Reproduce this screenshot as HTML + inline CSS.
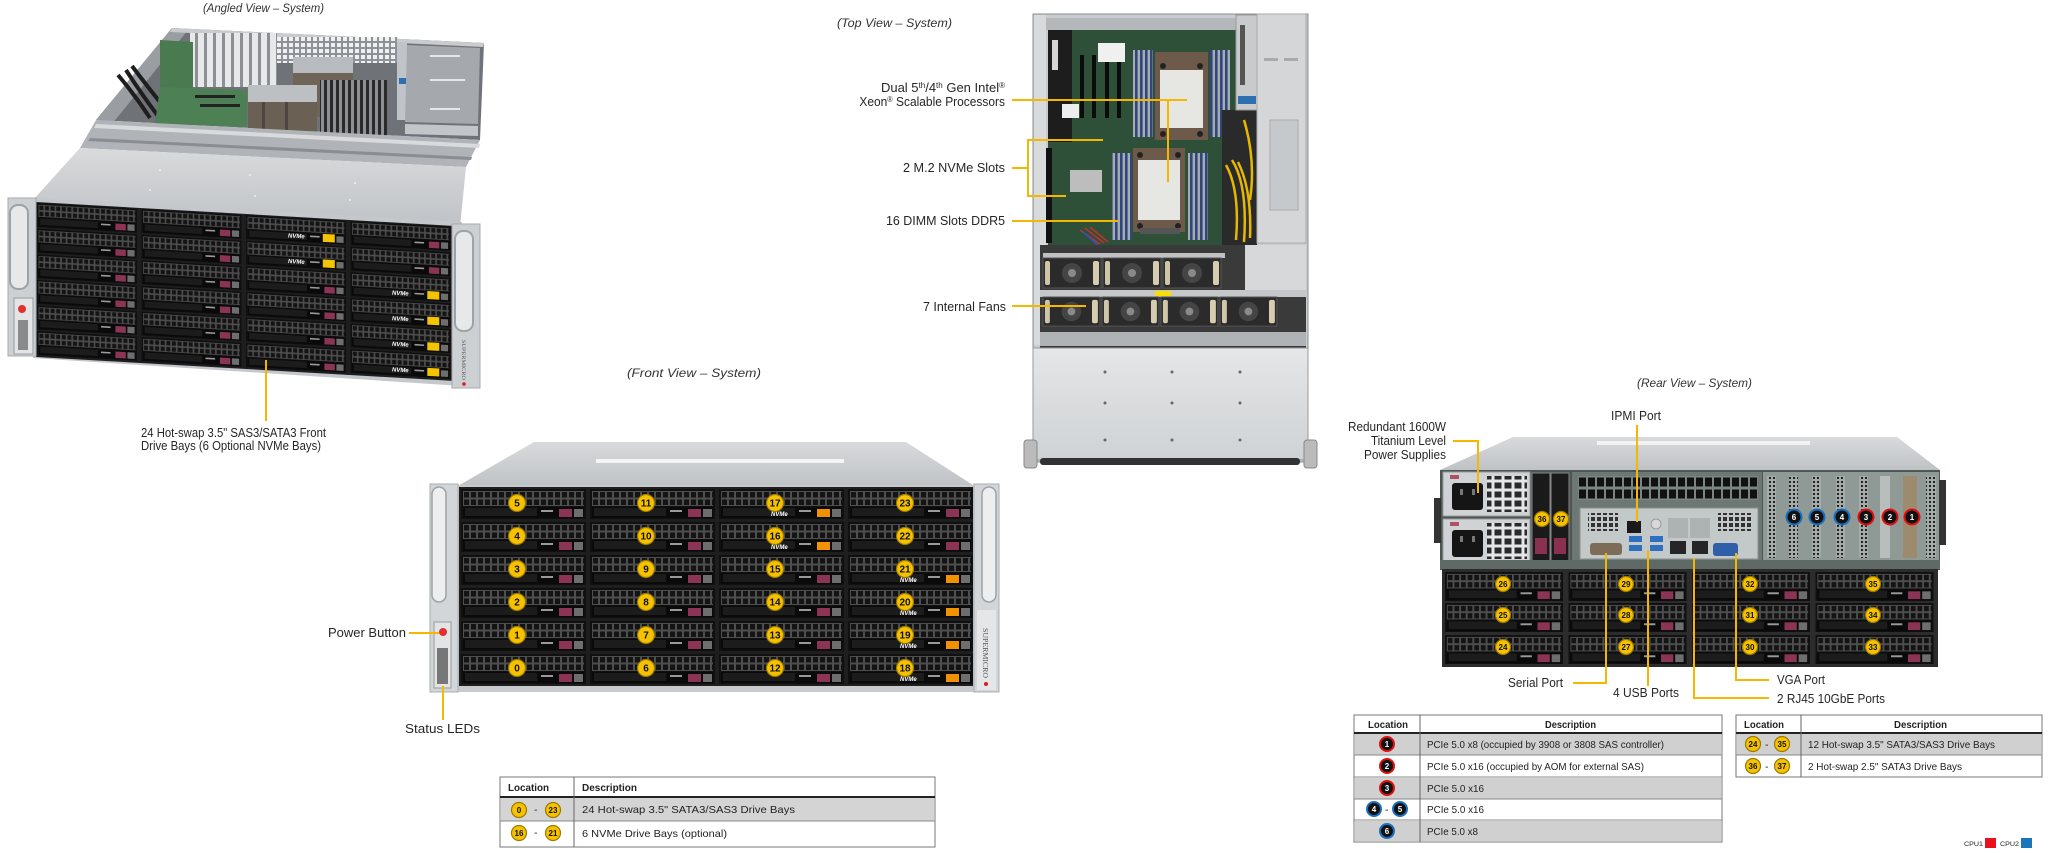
<!DOCTYPE html>
<html><head><meta charset="utf-8">
<style>
html,body{margin:0;padding:0;background:#fff;}
svg{display:block;}
text{font-family:"Liberation Sans",Arial,sans-serif;}
.cap{font-size:12px;font-style:italic;fill:#333;}
.lbl{font-size:13px;fill:#262626;}
.ld{stroke:#f5b700;stroke-width:2;fill:none;}
.yc{fill:#f6c200;stroke:#9c7a00;stroke-width:1.2;}
.yt{font-weight:bold;font-size:10px;text-anchor:middle;fill:#111;}
.ys{font-weight:bold;font-size:8px;text-anchor:middle;fill:#111;}
.kc{fill:#111;stroke-width:2;}
.kt{font-weight:bold;font-size:8px;text-anchor:middle;fill:#fff;}
.th{font-size:10.5px;font-weight:bold;fill:#222;}
.td{font-size:10.5px;fill:#222;}
.nv{font-size:6px;font-weight:bold;font-style:italic;fill:#fff;}
</style></head><body>
<svg width="2048" height="853" viewBox="0 0 2048 853" xmlns="http://www.w3.org/2000/svg">
<defs>
 <pattern id="grill" width="7" height="7.5" patternUnits="userSpaceOnUse" x="2" y="2">
  <rect width="7" height="7.5" fill="#4e4e4e"/>
  <rect x="1" y="1" width="5" height="5.5" fill="#141414"/>
 </pattern>
 <pattern id="vent" width="9" height="12" patternUnits="userSpaceOnUse" x="1578" y="476">
  <rect width="9" height="12" fill="#7a8682"/>
  <rect x="1" y="1.5" width="7" height="9" fill="#111"/>
 </pattern>
 <pattern id="vent2" width="6" height="6" patternUnits="userSpaceOnUse">
  <rect width="6" height="6" fill="#c3c8c8"/>
  <rect x="1" y="1" width="4" height="4" fill="#333"/>
 </pattern>
 <pattern id="wgrid" width="6" height="6" patternUnits="userSpaceOnUse">
  <rect width="6" height="6" fill="#8e9296"/>
  <rect x="1" y="1" width="4" height="4" fill="#eef0f1"/>
 </pattern>
 <pattern id="perf" width="4" height="4" patternUnits="userSpaceOnUse">
  <rect width="4" height="4" fill="#a3aca8"/>
  <rect x="1" y="1" width="2" height="2" fill="#222"/>
 </pattern>
 <pattern id="psug" width="10" height="9" patternUnits="userSpaceOnUse">
  <rect width="10" height="9" fill="#e4e6e8"/>
  <rect x="1.5" y="1.5" width="7" height="6" fill="#2a2a2a"/>
 </pattern>
 <pattern id="dimm" width="5" height="5" patternUnits="userSpaceOnUse">
  <rect width="5" height="5" fill="#a4acb4"/>
  <rect width="2.6" height="5" fill="#33467a"/>
 </pattern>
 <pattern id="dimm2" width="6" height="6" patternUnits="userSpaceOnUse">
  <rect width="6" height="6" fill="#8c9094"/>
  <rect width="3" height="6" fill="#2a2a2a"/>
 </pattern>
 <pattern id="brk" width="9" height="9" patternUnits="userSpaceOnUse">
  <rect width="9" height="9" fill="#e6e8ea"/>
  <rect x="6" width="3" height="9" fill="#8c9094"/>
 </pattern>
 <linearGradient id="lidg" x1="0" y1="0" x2="0" y2="1">
  <stop offset="0" stop-color="#d8dadc"/><stop offset="1" stop-color="#bfc2c5"/>
 </linearGradient>
 <linearGradient id="cage" x1="0" y1="0" x2="0" y2="1">
  <stop offset="0" stop-color="#e4e6e8"/><stop offset="1" stop-color="#cfd2d4"/>
 </linearGradient>
 <g id="bayBase">
  <rect width="125" height="30" fill="#101010"/>
  <rect x="2" y="2" width="121" height="15" fill="url(#grill)"/>
  <rect x="2" y="18" width="121" height="11" fill="#0a0a0a"/>
  <rect x="4" y="19" width="72" height="8" fill="#1c1c1c"/>
  <rect x="80" y="21" width="12" height="2" fill="#9a9a9a"/>
  <rect x="113" y="20" width="9" height="8" fill="#6e6e6e"/>
 </g>
 <g id="bayR"><use href="#bayBase"/><rect x="98" y="20" width="13" height="8" fill="#8c3456"/></g>
 <g id="bayO"><use href="#bayBase"/><rect x="98" y="20" width="13" height="8" fill="#f39200"/></g>
 <g id="bayY"><use href="#bayBase"/><rect x="96" y="18" width="15" height="10" fill="#f5c400"/></g>
 <g id="psu">
  <rect width="87" height="44" fill="#d0d3d5" stroke="#999"/>
  <rect x="7" y="3" width="9" height="4" fill="#b05060"/>
  <rect x="9" y="11" width="31" height="27" rx="3" fill="#151515"/>
  <rect x="17" y="17" width="3" height="6" fill="#777"/><rect x="29" y="17" width="3" height="6" fill="#777"/>
  <rect x="44" y="4" width="40" height="36" fill="url(#psug)"/>
 </g>
 <g id="fan">
  <rect width="58" height="30" fill="#2b2b2b" stroke="#555"/>
  <circle cx="29" cy="15" r="10" fill="#454545"/>
  <circle cx="29" cy="15" r="4" fill="#8a8a8a"/>
  <rect x="50" y="3" width="6" height="24" rx="2" fill="#d6ccb0"/>
  <rect x="2" y="3" width="5" height="24" rx="2" fill="#cfc5a8"/>
 </g>
</defs>

<rect width="2048" height="853" fill="#fff"/>

<!-- ============ ANGLED VIEW ============ -->
<text class="cap" x="203" y="12" textLength="121" lengthAdjust="spacingAndGlyphs">(Angled View – System)</text>
<polygon points="172,28 484,43 480,140 96,120" fill="#6f7377"/>
<polygon points="172,28 188,30 112,124 96,120" fill="#9a9ea2"/>
<polygon points="172,28 484,43 483,47 170,32" fill="#c9ccce"/>
<rect x="190" y="33" width="87" height="54" fill="url(#brk)"/>
<rect x="277" y="37" width="120" height="26" fill="url(#wgrid)"/>
<path d="M118,75 Q135,95 150,118 M126,70 Q140,92 158,116 M132,66 Q150,90 168,112" stroke="#1e1e1e" stroke-width="4" fill="none"/>
<polygon points="160,40 193,42 193,97 160,95" fill="#4a7a50"/>
<polygon points="160,87 247,90 247,127 155,124" fill="#4d8055"/>
<rect x="195" y="95" width="40" height="3" fill="#222"/>
<rect x="200" y="104" width="40" height="3" fill="#222"/>
<rect x="293" y="57" width="60" height="60" fill="#6e6458"/>
<rect x="293" y="57" width="60" height="16" fill="#b8bcc0"/>
<rect x="248" y="85" width="69" height="48" fill="#6a6054"/>
<rect x="248" y="85" width="69" height="17" fill="#bcc0c3"/>
<rect x="262" y="102" width="3" height="31" fill="#4e463e"/><rect x="285" y="102" width="3" height="31" fill="#4e463e"/>
<rect x="320" y="80" width="67" height="57" fill="url(#dimm2)"/>
<rect x="397" y="42" width="10" height="78" fill="#c0c4c8"/>
<rect x="399" y="78" width="8" height="6" fill="#2e6fb0"/>
<polygon points="407,45 480,48 478,124 405,122" fill="#a5a9ad"/>
<rect x="430" y="55" width="30" height="2" fill="#e4e6e8"/>
<rect x="430" y="79" width="35" height="2" fill="#e4e6e8"/>
<rect x="430" y="108" width="30" height="2" fill="#e4e6e8"/>
<polygon points="405,124 478,126 478,136 405,134" fill="#c3c6c9"/>
<rect x="259" y="133" width="44" height="4" fill="#e8c020"/>
<polygon points="96,120 480,140 466,167 80,148" fill="#b0b4b8"/>
<polygon points="96,124 480,144 479,148 94,128" fill="#d8dadc"/>
<polygon points="90,138 472,157 471,160 88,141" fill="#8a8e92"/>
<polygon points="80,148 466,167 460,227 33,200" fill="url(#lidg)"/>
<g fill="#eef0f1"><circle cx="160" cy="170" r="1"/><circle cx="250" cy="175" r="1"/><circle cx="355" cy="183" r="1"/><circle cx="150" cy="190" r="1"/><circle cx="255" cy="196" r="1"/><circle cx="350" cy="200" r="1"/></g>
<polygon points="33,198 462,222 462,386 33,358" fill="#c4c8cc"/>
<g transform="matrix(1,0.0573,0,1,36,202)">
 <rect x="0" y="0" width="419" height="155" fill="#1e1e1e"/>
 <use href="#bayR" transform="translate(1,1) scale(0.8)"/>
 <use href="#bayR" transform="translate(1,26.6) scale(0.8)"/>
 <use href="#bayR" transform="translate(1,52.2) scale(0.8)"/>
 <use href="#bayR" transform="translate(1,77.8) scale(0.8)"/>
 <use href="#bayR" transform="translate(1,103.4) scale(0.8)"/>
 <use href="#bayR" transform="translate(1,129) scale(0.8)"/>
 <use href="#bayR" transform="translate(105.5,1) scale(0.8)"/>
 <use href="#bayR" transform="translate(105.5,26.6) scale(0.8)"/>
 <use href="#bayR" transform="translate(105.5,52.2) scale(0.8)"/>
 <use href="#bayR" transform="translate(105.5,77.8) scale(0.8)"/>
 <use href="#bayR" transform="translate(105.5,103.4) scale(0.8)"/>
 <use href="#bayR" transform="translate(105.5,129) scale(0.8)"/>
 <use href="#bayY" transform="translate(210,1) scale(0.8)"/>
 <use href="#bayY" transform="translate(210,26.6) scale(0.8)"/>
 <use href="#bayR" transform="translate(210,52.2) scale(0.8)"/>
 <use href="#bayR" transform="translate(210,77.8) scale(0.8)"/>
 <use href="#bayR" transform="translate(210,103.4) scale(0.8)"/>
 <use href="#bayR" transform="translate(210,129) scale(0.8)"/>
 <use href="#bayR" transform="translate(314.5,1) scale(0.8)"/>
 <use href="#bayR" transform="translate(314.5,26.6) scale(0.8)"/>
 <use href="#bayY" transform="translate(314.5,52.2) scale(0.8)"/>
 <use href="#bayY" transform="translate(314.5,77.8) scale(0.8)"/>
 <use href="#bayY" transform="translate(314.5,103.4) scale(0.8)"/>
 <use href="#bayY" transform="translate(314.5,129) scale(0.8)"/>
 <text class="nv" x="252" y="21" font-size="5">NVMe</text>
 <text class="nv" x="252" y="46.6" font-size="5">NVMe</text>
 <text class="nv" x="356" y="72.2" font-size="5">NVMe</text>
 <text class="nv" x="356" y="97.8" font-size="5">NVMe</text>
 <text class="nv" x="356" y="123.4" font-size="5">NVMe</text>
 <text class="nv" x="356" y="149" font-size="5">NVMe</text>
</g>
<!-- angled ears -->
<rect x="8" y="198" width="28" height="158" fill="#cdd0d3" stroke="#a5a9ad"/>
<rect x="10" y="205" width="18" height="84" rx="8" fill="#e6e8ea" stroke="#9da2a6" stroke-width="2"/>
<rect x="14" y="298" width="19" height="56" fill="#e2e4e6" stroke="#9a9a9a"/>
<circle cx="22" cy="309" r="4" fill="#e03030"/>
<rect x="18" y="320" width="10" height="30" fill="#8a8a8a"/>
<rect x="452" y="224" width="28" height="164" fill="#cdd0d3" stroke="#a5a9ad"/>
<rect x="455" y="231" width="18" height="100" rx="8" fill="#e6e8ea" stroke="#9da2a6" stroke-width="2"/>
<text x="462" y="340" font-size="5" fill="#555" transform="rotate(90 462 340)" textLength="40" lengthAdjust="spacingAndGlyphs" style="font-family:'Liberation Serif',serif">SUPERMICRO</text>
<circle cx="464" cy="384" r="1.8" fill="#d02020"/>
<line class="ld" x1="266" y1="360" x2="266" y2="421"/>
<text class="lbl" x="141" y="437" textLength="185" lengthAdjust="spacingAndGlyphs">24 Hot-swap 3.5" SAS3/SATA3 Front</text>
<text class="lbl" x="141" y="450" textLength="180" lengthAdjust="spacingAndGlyphs">Drive Bays (6 Optional NVMe Bays)</text>

<!-- ============ TOP VIEW ============ -->
<text class="cap" x="837" y="27" textLength="115" lengthAdjust="spacingAndGlyphs">(Top View – System)</text>
<rect x="1033" y="14" width="275" height="448" fill="#c9cccf" stroke="#8a8e92"/>
<rect x="1034" y="15" width="12" height="330" fill="#d8dadc"/>
<rect x="1046" y="18" width="190" height="12" fill="#b4b8bb"/>
<rect x="1048" y="30" width="188" height="215" fill="#2e4f38"/>
<rect x="1048" y="30" width="24" height="112" fill="#1d1d1d"/>
<rect x="1052" y="40" width="6" height="30" fill="#d6d6d6"/>
<rect x="1062" y="104" width="17" height="14" fill="#eeeeee"/>
<rect x="1080" y="55" width="4" height="63" fill="#0c0c0c"/>
<rect x="1092" y="55" width="4" height="63" fill="#0c0c0c"/>
<rect x="1105" y="55" width="4" height="63" fill="#0c0c0c"/>
<rect x="1117" y="55" width="4" height="63" fill="#0c0c0c"/>
<rect x="1098" y="43" width="27" height="19" fill="#f0f0f0"/>
<rect x="1046" y="148" width="6" height="95" fill="#111"/>
<rect x="1070" y="170" width="32" height="22" fill="#bdbdbd"/>
<rect x="1133" y="50" width="20" height="87" fill="url(#dimm)"/>
<rect x="1210" y="50" width="20" height="87" fill="url(#dimm)"/>
<rect x="1112" y="153" width="20" height="87" fill="url(#dimm)"/>
<rect x="1188" y="153" width="20" height="87" fill="url(#dimm)"/>
<rect x="1155" y="52" width="53" height="88" fill="#6e5a4a"/>
<rect x="1160" y="70" width="43" height="58" fill="#e6e6e2"/>
<circle cx="1163" cy="66" r="3" fill="#222"/><circle cx="1200" cy="66" r="3" fill="#222"/>
<circle cx="1163" cy="134" r="3" fill="#222"/><circle cx="1200" cy="134" r="3" fill="#222"/>
<rect x="1133" y="148" width="52" height="84" fill="#6e5a4a"/>
<rect x="1138" y="160" width="42" height="60" fill="#e6e6e2"/>
<circle cx="1140" cy="155" r="3" fill="#222"/><circle cx="1178" cy="155" r="3" fill="#222"/>
<circle cx="1140" cy="226" r="3" fill="#222"/><circle cx="1178" cy="226" r="3" fill="#222"/>
<rect x="1140" y="228" width="40" height="6" fill="#555"/>
<path d="M1080,230 L1100,244 M1085,228 L1104,243 M1090,227 L1108,242" stroke="#c03030" stroke-width="1.5"/>
<path d="M1083,232 L1098,245" stroke="#3050c0" stroke-width="1.5"/>
<rect x="1222" y="110" width="35" height="135" fill="#2a2a2a"/>
<path d="M1226,165 Q1240,190 1236,240 M1232,160 Q1248,185 1244,242 M1238,162 Q1252,190 1250,238 M1244,120 Q1256,160 1250,200" stroke="#e6b800" stroke-width="2.5" fill="none"/>
<rect x="1236" y="15" width="21" height="95" fill="#c8cacc" stroke="#999"/>
<rect x="1240" y="25" width="5" height="60" fill="#555"/>
<rect x="1238" y="96" width="18" height="8" fill="#2e6fb0"/>
<rect x="1257" y="14" width="49" height="229" fill="#d4d6d8" stroke="#aaa"/>
<rect x="1270" y="120" width="28" height="90" fill="#c6c9cc" stroke="#aaa"/>
<rect x="1264" y="58" width="14" height="3" fill="#aaa"/><rect x="1284" y="58" width="14" height="3" fill="#aaa"/>
<rect x="1040" y="245" width="266" height="103" fill="#3a3a3a"/>
<rect x="1043" y="253" width="182" height="5" fill="#bfc1c3"/>
<use href="#fan" transform="translate(1043,258)"/>
<use href="#fan" transform="translate(1103,258)"/>
<use href="#fan" transform="translate(1163,258)"/>
<rect x="1245" y="245" width="61" height="45" fill="#d6d8da"/>
<rect x="1040" y="290" width="266" height="7" fill="#c5c7c9"/>
<rect x="1155" y="291" width="16" height="5" fill="#f5e000"/>
<use href="#fan" transform="translate(1043,297) scale(0.98,0.97)"/>
<use href="#fan" transform="translate(1102,297) scale(0.98,0.97)"/>
<use href="#fan" transform="translate(1161,297) scale(0.98,0.97)"/>
<use href="#fan" transform="translate(1220,297) scale(0.98,0.97)"/>
<rect x="1040" y="332" width="266" height="14" fill="#b0b3b6"/>
<rect x="1033" y="348" width="275" height="112" fill="url(#cage)" stroke="#999"/>
<g fill="#666">
<circle cx="1105" cy="372" r="1.5"/><circle cx="1172" cy="372" r="1.5"/><circle cx="1240" cy="372" r="1.5"/>
<circle cx="1105" cy="403" r="1.5"/><circle cx="1172" cy="403" r="1.5"/><circle cx="1240" cy="403" r="1.5"/>
<circle cx="1105" cy="440" r="1.5"/><circle cx="1172" cy="440" r="1.5"/><circle cx="1240" cy="440" r="1.5"/>
</g>
<rect x="1040" y="458" width="260" height="7" rx="3" fill="#333"/>
<rect x="1024" y="440" width="13" height="28" rx="3" fill="#bbb" stroke="#888"/>
<rect x="1304" y="440" width="13" height="28" rx="3" fill="#bbb" stroke="#888"/>
<!-- top view labels -->
<text class="lbl" x="1005" y="92" text-anchor="end">Dual 5<tspan font-size="8" dy="-4">th</tspan><tspan dy="4">/4</tspan><tspan font-size="8" dy="-4">th</tspan><tspan dy="4"> Gen Intel</tspan><tspan font-size="8" dy="-4">®</tspan></text>
<g transform="translate(1005,0) scale(0.92,1)"><text class="lbl" x="0" y="106" text-anchor="end">Xeon<tspan font-size="8" dy="-4">®</tspan><tspan dy="4"> Scalable Processors</tspan></text></g>
<text class="lbl" x="903" y="172" textLength="102" lengthAdjust="spacingAndGlyphs">2 M.2 NVMe Slots</text>
<text class="lbl" x="886" y="225" textLength="119" lengthAdjust="spacingAndGlyphs">16 DIMM Slots DDR5</text>
<text class="lbl" x="923" y="311" textLength="83" lengthAdjust="spacingAndGlyphs">7 Internal  Fans</text>
<polyline class="ld" points="1012,100 1187,100"/>
<polyline class="ld" points="1168,100 1168,182"/>
<polyline class="ld" points="1012,168 1028,168"/>
<polyline class="ld" points="1103,140 1028,140 1028,196 1066,196"/>
<polyline class="ld" points="1012,221 1118,221"/>
<polyline class="ld" points="1012,306 1086,306"/>

<!-- ============ FRONT VIEW ============ -->
<text class="cap" x="627" y="377" textLength="134" lengthAdjust="spacingAndGlyphs">(Front View – System)</text>
<polygon points="534,442 906,442 976,487 456,487" fill="url(#lidg)"/>
<rect x="596" y="459" width="248" height="4" fill="#f3f4f5"/>
<rect x="456" y="485" width="520" height="207" fill="#c8cbce"/>
<rect x="459" y="487" width="514" height="199" fill="#1e1e1e"/>
<use href="#bayR" x="461" y="489"/><use href="#bayR" x="461" y="522"/><use href="#bayR" x="461" y="555"/>
<use href="#bayR" x="461" y="588"/><use href="#bayR" x="461" y="621"/><use href="#bayR" x="461" y="654"/>
<use href="#bayR" x="590" y="489"/><use href="#bayR" x="590" y="522"/><use href="#bayR" x="590" y="555"/>
<use href="#bayR" x="590" y="588"/><use href="#bayR" x="590" y="621"/><use href="#bayR" x="590" y="654"/>
<use href="#bayO" x="719" y="489"/><use href="#bayO" x="719" y="522"/><use href="#bayR" x="719" y="555"/>
<use href="#bayR" x="719" y="588"/><use href="#bayR" x="719" y="621"/><use href="#bayR" x="719" y="654"/>
<use href="#bayR" x="848" y="489"/><use href="#bayR" x="848" y="522"/><use href="#bayO" x="848" y="555"/>
<use href="#bayO" x="848" y="588"/><use href="#bayO" x="848" y="621"/><use href="#bayO" x="848" y="654"/>
<text class="nv" x="771" y="516">NVMe</text><text class="nv" x="771" y="549">NVMe</text>
<text class="nv" x="900" y="582">NVMe</text><text class="nv" x="900" y="615">NVMe</text>
<text class="nv" x="900" y="648">NVMe</text><text class="nv" x="900" y="681">NVMe</text>
<g>
<circle class="yc" cx="517" cy="503" r="8.5"/><text class="yt" x="517" y="506.5">5</text>
<circle class="yc" cx="517" cy="536" r="8.5"/><text class="yt" x="517" y="539.5">4</text>
<circle class="yc" cx="517" cy="569" r="8.5"/><text class="yt" x="517" y="572.5">3</text>
<circle class="yc" cx="517" cy="602" r="8.5"/><text class="yt" x="517" y="605.5">2</text>
<circle class="yc" cx="517" cy="635" r="8.5"/><text class="yt" x="517" y="638.5">1</text>
<circle class="yc" cx="517" cy="668" r="8.5"/><text class="yt" x="517" y="671.5">0</text>
<circle class="yc" cx="646" cy="503" r="8.5"/><text class="yt" x="646" y="506.5">11</text>
<circle class="yc" cx="646" cy="536" r="8.5"/><text class="yt" x="646" y="539.5">10</text>
<circle class="yc" cx="646" cy="569" r="8.5"/><text class="yt" x="646" y="572.5">9</text>
<circle class="yc" cx="646" cy="602" r="8.5"/><text class="yt" x="646" y="605.5">8</text>
<circle class="yc" cx="646" cy="635" r="8.5"/><text class="yt" x="646" y="638.5">7</text>
<circle class="yc" cx="646" cy="668" r="8.5"/><text class="yt" x="646" y="671.5">6</text>
<circle class="yc" cx="775" cy="503" r="8.5"/><text class="yt" x="775" y="506.5">17</text>
<circle class="yc" cx="775" cy="536" r="8.5"/><text class="yt" x="775" y="539.5">16</text>
<circle class="yc" cx="775" cy="569" r="8.5"/><text class="yt" x="775" y="572.5">15</text>
<circle class="yc" cx="775" cy="602" r="8.5"/><text class="yt" x="775" y="605.5">14</text>
<circle class="yc" cx="775" cy="635" r="8.5"/><text class="yt" x="775" y="638.5">13</text>
<circle class="yc" cx="775" cy="668" r="8.5"/><text class="yt" x="775" y="671.5">12</text>
<circle class="yc" cx="905" cy="503" r="8.5"/><text class="yt" x="905" y="506.5">23</text>
<circle class="yc" cx="905" cy="536" r="8.5"/><text class="yt" x="905" y="539.5">22</text>
<circle class="yc" cx="905" cy="569" r="8.5"/><text class="yt" x="905" y="572.5">21</text>
<circle class="yc" cx="905" cy="602" r="8.5"/><text class="yt" x="905" y="605.5">20</text>
<circle class="yc" cx="905" cy="635" r="8.5"/><text class="yt" x="905" y="638.5">19</text>
<circle class="yc" cx="905" cy="668" r="8.5"/><text class="yt" x="905" y="671.5">18</text>
</g>
<!-- front ears -->
<rect x="430" y="484" width="28" height="208" fill="#d3d6d9" stroke="#a9adb1"/>
<rect x="432" y="487" width="14" height="115" rx="7" fill="#eceeef" stroke="#9da2a6" stroke-width="1.5"/>
<rect x="434" y="622" width="17" height="66" fill="#e2e4e6" stroke="#999"/>
<circle cx="443" cy="632" r="4" fill="#e03030"/>
<rect x="437" y="648" width="11" height="36" fill="#777"/>
<rect x="974" y="484" width="25" height="208" fill="#d3d6d9" stroke="#a9adb1"/>
<rect x="982" y="487" width="14" height="115" rx="7" fill="#eceeef" stroke="#9da2a6" stroke-width="1.5"/>
<rect x="977" y="610" width="19" height="80" fill="#e4e6e8"/>
<text x="983" y="628" font-size="7" fill="#555" transform="rotate(90 983 628)" textLength="50" lengthAdjust="spacingAndGlyphs" style="font-family:'Liberation Serif',serif">SUPERMICRO</text>
<circle cx="986" cy="684" r="2" fill="#d02020"/>
<text class="lbl" x="328" y="637" textLength="78" lengthAdjust="spacingAndGlyphs">Power Button</text>
<line class="ld" x1="409" y1="633" x2="439" y2="633"/>
<text class="lbl" x="405" y="733" textLength="75" lengthAdjust="spacingAndGlyphs">Status LEDs</text>
<line class="ld" x1="443" y1="686" x2="443" y2="720"/>

<!-- front table -->
<rect x="500" y="777" width="435" height="70" fill="#fff" stroke="#777"/>
<rect x="501" y="798" width="433" height="23" fill="#d4d4d4"/>
<line x1="500" y1="797" x2="935" y2="797" stroke="#222" stroke-width="2"/>
<line x1="500" y1="821" x2="935" y2="821" stroke="#888"/>
<line x1="574" y1="777" x2="574" y2="847" stroke="#666"/>
<text class="th" x="508" y="791" textLength="41" lengthAdjust="spacingAndGlyphs">Location</text>
<text class="th" x="582" y="791" textLength="55" lengthAdjust="spacingAndGlyphs">Description</text>
<circle class="yc" cx="519" cy="810" r="7.5"/><text class="ys" x="519" y="813">0</text>
<text class="td" x="534" y="813">-</text>
<circle class="yc" cx="553" cy="810" r="7.5"/><text class="ys" x="553" y="813">23</text>
<circle class="yc" cx="519" cy="833" r="7.5"/><text class="ys" x="519" y="836">16</text>
<text class="td" x="534" y="836">-</text>
<circle class="yc" cx="553" cy="833" r="7.5"/><text class="ys" x="553" y="836">21</text>
<text class="td" x="582" y="813" textLength="213" lengthAdjust="spacingAndGlyphs">24 Hot-swap 3.5" SATA3/SAS3 Drive Bays</text>
<text class="td" x="582" y="837" textLength="145" lengthAdjust="spacingAndGlyphs">6 NVMe Drive Bays (optional)</text>

<!-- ============ REAR VIEW ============ -->
<text class="cap" x="1637" y="387" textLength="115" lengthAdjust="spacingAndGlyphs">(Rear View – System)</text>
<polygon points="1513,437 1897,437 1940,470 1440,470" fill="url(#lidg)"/>
<rect x="1597" y="441" width="213" height="4" fill="#f3f3f3"/>
<rect x="1440" y="470" width="500" height="100" fill="#4e5654"/>
<rect x="1434" y="498" width="7" height="45" fill="#333"/>
<rect x="1939" y="480" width="7" height="65" fill="#333"/>
<use href="#psu" x="1443" y="472"/>
<use href="#psu" x="1443" y="519"/>
<rect x="1532" y="473" width="18" height="92" fill="#1a1a1a" stroke="#888"/>
<rect x="1551" y="473" width="18" height="92" fill="#1a1a1a" stroke="#888"/>
<rect x="1535" y="538" width="12" height="16" fill="#8a3050"/>
<rect x="1554" y="538" width="12" height="16" fill="#8a3050"/>
<rect x="1572" y="472" width="190" height="94" fill="#6d7874"/>
<rect x="1578" y="476" width="180" height="24" fill="url(#vent)"/>
<rect x="1580" y="508" width="178" height="51" fill="#c3c8c8" stroke="#8a8f8f"/>
<rect x="1588" y="513" width="30" height="18" fill="url(#vent2)"/>
<rect x="1718" y="513" width="34" height="18" fill="url(#vent2)"/>
<rect x="1627" y="521" width="14" height="12" fill="#1a1a1a"/>
<circle cx="1656" cy="524" r="5" fill="#d8d8d8" stroke="#999"/>
<rect x="1629" y="536" width="13" height="6" fill="#2f6fc0"/><rect x="1629" y="545" width="13" height="6" fill="#2f6fc0"/>
<rect x="1650" y="536" width="13" height="6" fill="#2f6fc0"/><rect x="1650" y="545" width="13" height="6" fill="#2f6fc0"/>
<rect x="1668" y="518" width="20" height="20" fill="#adb2b2"/><rect x="1670" y="541" width="16" height="13" fill="#262626"/>
<rect x="1690" y="518" width="20" height="20" fill="#adb2b2"/><rect x="1692" y="541" width="16" height="13" fill="#262626"/>
<rect x="1590" y="543" width="32" height="12" rx="3" fill="#7d6d58"/>
<rect x="1713" y="543" width="25" height="13" rx="3" fill="#2e5fa8"/>
<rect x="1763" y="472" width="176" height="94" fill="#8f9995"/>
<rect x="1767" y="476" width="9" height="82" fill="url(#perf)"/>
<rect x="1789" y="476" width="9" height="82" fill="url(#perf)"/>
<rect x="1812" y="476" width="9" height="82" fill="url(#perf)"/>
<rect x="1836" y="476" width="9" height="82" fill="url(#perf)"/>
<rect x="1859" y="476" width="9" height="82" fill="url(#perf)"/>
<rect x="1880" y="476" width="10" height="82" fill="#b9bdbb"/>
<rect x="1885" y="510" width="8" height="14" fill="#222"/>
<rect x="1903" y="476" width="14" height="82" fill="#9c8b6c"/>
<rect x="1926" y="476" width="10" height="82" fill="url(#perf)"/>
<rect x="1440" y="560" width="500" height="9" fill="#5f6966"/>
<circle class="kc" cx="1794" cy="517" r="7.5" stroke="#1a70c0"/><text class="kt" x="1794" y="520">6</text>
<circle class="kc" cx="1817" cy="517" r="7.5" stroke="#1a70c0"/><text class="kt" x="1817" y="520">5</text>
<circle class="kc" cx="1842" cy="517" r="7.5" stroke="#1a70c0"/><text class="kt" x="1842" y="520">4</text>
<circle class="kc" cx="1866" cy="517" r="7.5" stroke="#e01010"/><text class="kt" x="1866" y="520">3</text>
<circle class="kc" cx="1890" cy="517" r="7.5" stroke="#e01010"/><text class="kt" x="1890" y="520">2</text>
<circle class="kc" cx="1912" cy="517" r="7.5" stroke="#e01010"/><text class="kt" x="1912" y="520">1</text>
<circle class="yc" cx="1542" cy="519" r="7.5"/><text class="ys" x="1542" y="522">36</text>
<circle class="yc" cx="1561" cy="519" r="7.5"/><text class="ys" x="1561" y="522">37</text>
<rect x="1442" y="569" width="496" height="98" fill="#2c2c2c"/>
<g>
<use href="#bayR" transform="translate(1445,572) scale(0.944,0.967)"/>
<use href="#bayR" transform="translate(1445,603) scale(0.944,0.967)"/>
<use href="#bayR" transform="translate(1445,635) scale(0.944,0.967)"/>
<use href="#bayR" transform="translate(1568.5,572) scale(0.944,0.967)"/>
<use href="#bayR" transform="translate(1568.5,603) scale(0.944,0.967)"/>
<use href="#bayR" transform="translate(1568.5,635) scale(0.944,0.967)"/>
<use href="#bayR" transform="translate(1692,572) scale(0.944,0.967)"/>
<use href="#bayR" transform="translate(1692,603) scale(0.944,0.967)"/>
<use href="#bayR" transform="translate(1692,635) scale(0.944,0.967)"/>
<use href="#bayR" transform="translate(1815.5,572) scale(0.944,0.967)"/>
<use href="#bayR" transform="translate(1815.5,603) scale(0.944,0.967)"/>
<use href="#bayR" transform="translate(1815.5,635) scale(0.944,0.967)"/>
</g>
<circle class="yc" cx="1503" cy="584" r="7.5"/><text class="ys" x="1503" y="587">26</text>
<circle class="yc" cx="1503" cy="615" r="7.5"/><text class="ys" x="1503" y="618">25</text>
<circle class="yc" cx="1503" cy="647" r="7.5"/><text class="ys" x="1503" y="650">24</text>
<circle class="yc" cx="1626" cy="584" r="7.5"/><text class="ys" x="1626" y="587">29</text>
<circle class="yc" cx="1626" cy="615" r="7.5"/><text class="ys" x="1626" y="618">28</text>
<circle class="yc" cx="1626" cy="647" r="7.5"/><text class="ys" x="1626" y="650">27</text>
<circle class="yc" cx="1750" cy="584" r="7.5"/><text class="ys" x="1750" y="587">32</text>
<circle class="yc" cx="1750" cy="615" r="7.5"/><text class="ys" x="1750" y="618">31</text>
<circle class="yc" cx="1750" cy="647" r="7.5"/><text class="ys" x="1750" y="650">30</text>
<circle class="yc" cx="1873" cy="584" r="7.5"/><text class="ys" x="1873" y="587">35</text>
<circle class="yc" cx="1873" cy="615" r="7.5"/><text class="ys" x="1873" y="618">34</text>
<circle class="yc" cx="1873" cy="647" r="7.5"/><text class="ys" x="1873" y="650">33</text>
<!-- rear leaders & labels -->
<polyline class="ld" points="1453,441 1478,441 1478,493"/>
<line class="ld" x1="1637" y1="425" x2="1637" y2="522"/>
<polyline class="ld" points="1573,683 1606,683 1606,553"/>
<line class="ld" x1="1648" y1="550" x2="1648" y2="686"/>
<polyline class="ld" points="1694,558 1694,698 1769,698"/>
<polyline class="ld" points="1736,553 1736,680 1769,680"/>
<text class="lbl" x="1611" y="420" textLength="50" lengthAdjust="spacingAndGlyphs">IPMI Port</text>
<text class="lbl" x="1348" y="431" textLength="98" lengthAdjust="spacingAndGlyphs">Redundant 1600W</text>
<text class="lbl" x="1371" y="445" textLength="75" lengthAdjust="spacingAndGlyphs">Titanium Level</text>
<text class="lbl" x="1364" y="459" textLength="82" lengthAdjust="spacingAndGlyphs">Power Supplies</text>
<text class="lbl" x="1508" y="687" textLength="55" lengthAdjust="spacingAndGlyphs">Serial Port</text>
<text class="lbl" x="1613" y="697" textLength="66" lengthAdjust="spacingAndGlyphs">4 USB Ports</text>
<text class="lbl" x="1777" y="684" textLength="48" lengthAdjust="spacingAndGlyphs">VGA Port</text>
<text class="lbl" x="1777" y="703" textLength="108" lengthAdjust="spacingAndGlyphs">2 RJ45 10GbE Ports</text>

<!-- rear left table -->
<rect x="1354" y="715" width="368" height="127" fill="#fff" stroke="#777"/>
<rect x="1355" y="734" width="366" height="21" fill="#d0d0d0"/>
<rect x="1355" y="778" width="366" height="21" fill="#d0d0d0"/>
<rect x="1355" y="821" width="366" height="20" fill="#d0d0d0"/>
<line x1="1354" y1="733" x2="1722" y2="733" stroke="#222" stroke-width="2"/>
<line x1="1354" y1="755" x2="1722" y2="755" stroke="#888"/>
<line x1="1354" y1="777" x2="1722" y2="777" stroke="#888"/>
<line x1="1354" y1="799" x2="1722" y2="799" stroke="#888"/>
<line x1="1354" y1="820" x2="1722" y2="820" stroke="#888"/>
<line x1="1420" y1="715" x2="1420" y2="842" stroke="#666"/>
<text class="th" x="1368" y="728" textLength="40" lengthAdjust="spacingAndGlyphs">Location</text>
<text class="th" x="1545" y="728" textLength="51" lengthAdjust="spacingAndGlyphs">Description</text>
<circle class="kc" cx="1387" cy="744" r="7" stroke="#e01010"/><text class="kt" x="1387" y="747">1</text>
<circle class="kc" cx="1387" cy="766" r="7" stroke="#e01010"/><text class="kt" x="1387" y="769">2</text>
<circle class="kc" cx="1387" cy="788" r="7" stroke="#e01010"/><text class="kt" x="1387" y="791">3</text>
<circle class="kc" cx="1374" cy="809" r="7" stroke="#1a70c0"/><text class="kt" x="1374" y="812">4</text>
<text class="td" x="1385" y="813">-</text>
<circle class="kc" cx="1400" cy="809" r="7" stroke="#1a70c0"/><text class="kt" x="1400" y="812">5</text>
<circle class="kc" cx="1387" cy="831" r="7" stroke="#1a70c0"/><text class="kt" x="1387" y="834">6</text>
<text class="td" x="1427" y="748" textLength="237" lengthAdjust="spacingAndGlyphs">PCIe 5.0 x8 (occupied by 3908 or 3808 SAS controller)</text>
<text class="td" x="1427" y="770" textLength="217" lengthAdjust="spacingAndGlyphs">PCIe 5.0 x16 (occupied by AOM for external SAS)</text>
<text class="td" x="1427" y="792" textLength="57" lengthAdjust="spacingAndGlyphs">PCIe 5.0 x16</text>
<text class="td" x="1427" y="813" textLength="57" lengthAdjust="spacingAndGlyphs">PCIe 5.0 x16</text>
<text class="td" x="1427" y="835" textLength="51" lengthAdjust="spacingAndGlyphs">PCIe 5.0 x8</text>

<!-- rear right table -->
<rect x="1736" y="715" width="306" height="62" fill="#fff" stroke="#777"/>
<rect x="1737" y="734" width="304" height="21" fill="#d0d0d0"/>
<line x1="1736" y1="733" x2="2042" y2="733" stroke="#222" stroke-width="2"/>
<line x1="1736" y1="755" x2="2042" y2="755" stroke="#888"/>
<line x1="1801" y1="715" x2="1801" y2="777" stroke="#666"/>
<text class="th" x="1744" y="728" textLength="40" lengthAdjust="spacingAndGlyphs">Location</text>
<text class="th" x="1894" y="728" textLength="53" lengthAdjust="spacingAndGlyphs">Description</text>
<circle class="yc" cx="1753" cy="744" r="7.5"/><text class="ys" x="1753" y="747">24</text>
<text class="td" x="1765" y="748">-</text>
<circle class="yc" cx="1782" cy="744" r="7.5"/><text class="ys" x="1782" y="747">35</text>
<circle class="yc" cx="1753" cy="766" r="7.5"/><text class="ys" x="1753" y="769">36</text>
<text class="td" x="1765" y="770">-</text>
<circle class="yc" cx="1782" cy="766" r="7.5"/><text class="ys" x="1782" y="769">37</text>
<text class="td" x="1808" y="748" textLength="187" lengthAdjust="spacingAndGlyphs">12 Hot-swap 3.5" SATA3/SAS3 Drive Bays</text>
<text class="td" x="1808" y="770" textLength="154" lengthAdjust="spacingAndGlyphs">2 Hot-swap 2.5" SATA3 Drive Bays</text>

<!-- legend -->
<text x="1964" y="846" font-size="6.5" fill="#222" textLength="19" lengthAdjust="spacingAndGlyphs">CPU1</text>
<rect x="1985" y="838" width="11" height="10" fill="#e8101a"/>
<text x="2000" y="846" font-size="6.5" fill="#222" textLength="19" lengthAdjust="spacingAndGlyphs">CPU2</text>
<rect x="2021" y="838" width="11" height="10" fill="#1a75bb"/>
</svg>
</body></html>
